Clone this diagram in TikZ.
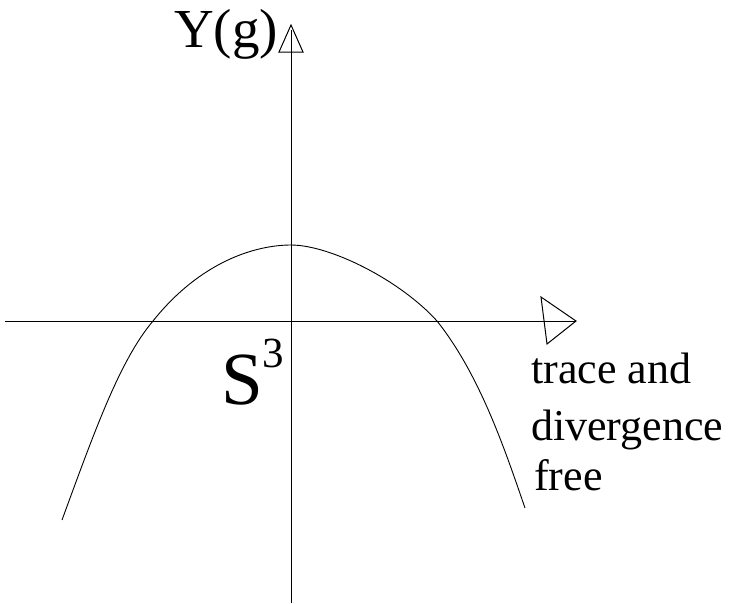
\documentclass[tikz,border=0pt]{standalone}
\usepackage{fontspec}
\setmainfont{Liberation Serif}
\begin{document}
\begin{tikzpicture}[x=1pt,y=-1pt,
  axis/.style={line width=1pt,black},
  curveline/.style={line width=0.9pt,black},
  tip/.style={line width=1pt,black,line join=miter},
  lbl/.style={inner sep=0pt,anchor=base west}]
\useasboundingbox (0,0) rectangle (735,603);
% coordinates
\coordinate (vtop) at (291,30);
\coordinate (vbot) at (291,603);
\coordinate (hleft) at (5,321);
\coordinate (hright) at (576,321);
% axes
\draw[axis] (vbot) -- (vtop);
\draw[axis] (hleft) -- (hright);
% arrowheads (open triangles)
\draw[tip] (279,52) -- (291,25) -- (303,52) -- cycle;
\draw[tip] (hright) -- (541,297) -- (547,344) -- cycle;
% curve
\draw[curveline] (62,520) .. controls (95,430) and (120,360) .. (153,321)
  .. controls (200,262) and (255,245) .. (291,245)
  .. controls (330,245) and (400,280) .. (437,321)
  .. controls (480,375) and (505,450) .. (525,508);
% labels
\node[lbl] (yg) at (174,47) {\fontsize{55}{55}\selectfont Y(g)};
\node[lbl] (s3) at (221,404) {\fontsize{75}{75}\selectfont S\raisebox{37pt}{\fontsize{43}{43}\selectfont 3}};
\node[lbl] (t1) at (531,383) {\fontsize{44}{44}\selectfont trace and};
\node[lbl] (t2) at (531,440) {\fontsize{44}{44}\selectfont divergence};
\node[lbl] (t3) at (534,490) {\fontsize{44}{44}\selectfont free};
\end{tikzpicture}
\end{document}
